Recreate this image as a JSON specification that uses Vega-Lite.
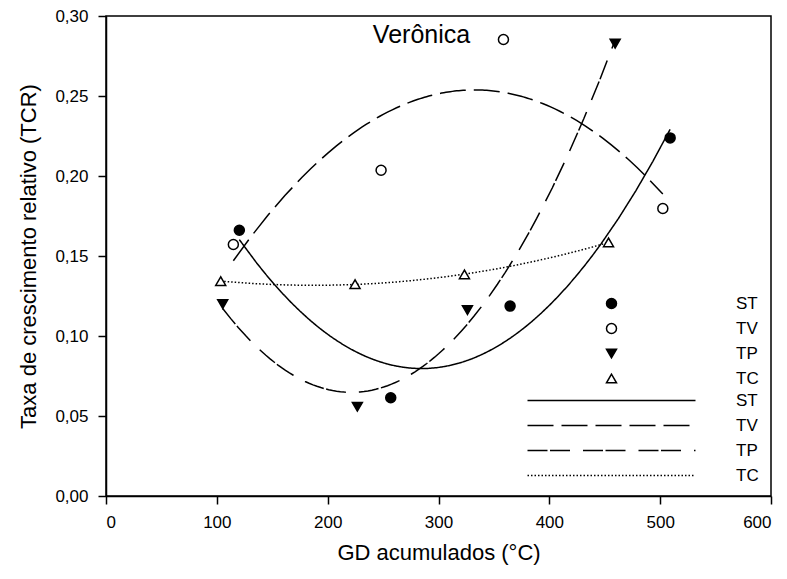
{
  "$schema": "https://vega.github.io/schema/vega-lite/v6.json",
  "width": 665,
  "height": 480,
  "autosize": "none",
  "padding": {"left": 106, "top": 16, "right": 16, "bottom": 83},
  "background": "white",
  "title": {"text": "Verônica", "fontSize": 25, "fontWeight": "normal", "font": "Liberation Sans", "color": "black", "anchor": "middle", "dx": -17, "offset": -41, "frame": "group"},
  "data": {"values": [
    {"x": 120.3, "y": 0.1661, "s": "ST"},
    {"x": 256.9, "y": 0.0614, "s": "ST"},
    {"x": 364.6, "y": 0.1187, "s": "ST"},
    {"x": 509.0, "y": 0.2238, "s": "ST"},
    {"x": 114.9, "y": 0.1572, "s": "TV"},
    {"x": 248.2, "y": 0.2036, "s": "TV"},
    {"x": 358.6, "y": 0.2853, "s": "TV"},
    {"x": 502.4, "y": 0.1797, "s": "TV"},
    {"x": 105.3, "y": 0.1199, "s": "TP"},
    {"x": 226.8, "y": 0.0558, "s": "TP"},
    {"x": 326.1, "y": 0.1162, "s": "TP"},
    {"x": 459.4, "y": 0.2827, "s": "TP"},
    {"x": 103.5, "y": 0.1343, "s": "TC"},
    {"x": 224.7, "y": 0.1324, "s": "TC"},
    {"x": 323.4, "y": 0.1385, "s": "TC"},
    {"x": 453.4, "y": 0.1585, "s": "TC"}
  ]},
  "encoding": {
    "x": {"field": "x", "type": "quantitative", "scale": {"domain": [0, 600], "nice": false},
      "axis": {"values": [0, 100, 200, 300, 400, 500, 600], "format": "d", "title": "GD acumulados (°C)", "grid": false}},
    "y": {"field": "y", "type": "quantitative", "scale": {"domain": [0, 0.3], "nice": false},
      "axis": {"values": [0, 0.05, 0.1, 0.15, 0.2, 0.25, 0.3], "format": ".2f", "title": "Taxa de crescimento relativo (TCR)", "grid": false}}
  },
  "layer": [
    {
      "transform": [{"regression": "y", "on": "x", "groupby": ["s"], "method": "poly", "order": 2}],
      "mark": {"type": "line", "stroke": "black", "strokeWidth": 1.5},
      "encoding": {
        "strokeDash": {"field": "s", "type": "nominal", "sort": ["ST", "TV", "TP", "TC"],
          "scale": {"range": [[1, 0], [26, 8], [20, 2.5, 20, 13], [1.5, 2]]},
          "legend": {"orient": "none", "legendX": 497, "legendY": 376, "title": null, "labelOffset": 116, "rowPadding": 7, "labelFontSize": 17, "labelFont": "Liberation Sans", "labelColor": "black", "symbolSize": 100, "symbolType": "M-16.8,0H16.8", "symbolStrokeColor": "black", "symbolStrokeWidth": 1.5, "padding": 0}}
      }
    },
    {
      "mark": {"type": "point", "filled": false, "strokeWidth": 1.5, "size": 100, "opacity": 1},
      "encoding": {
        "shape": {"field": "s", "type": "nominal",
          "scale": {"domain": ["ST", "TV", "TP", "TC"], "range": ["circle", "circle", "triangle-down", "triangle-up"]},
          "legend": {"orient": "none", "legendX": 497, "legendY": 279, "title": null, "labelOffset": 116, "rowPadding": 7, "labelFontSize": 17, "labelFont": "Liberation Sans", "labelColor": "black", "symbolSize": 100, "symbolStrokeWidth": 1.5, "padding": 0}},
        "fill": {"field": "s", "type": "nominal",
          "scale": {"domain": ["ST", "TV", "TP", "TC"], "range": ["black", "white", "black", "white"]},
          "legend": {"orient": "none", "legendX": 497, "legendY": 279, "title": null, "labelOffset": 116, "rowPadding": 7, "labelFontSize": 17, "labelFont": "Liberation Sans", "labelColor": "black", "symbolSize": 100, "symbolStrokeWidth": 1.5, "padding": 0}},
        "stroke": {"field": "s", "type": "nominal",
          "scale": {"domain": ["ST", "TV", "TP", "TC"], "range": ["black", "black", "black", "black"]},
          "legend": {"orient": "none", "legendX": 497, "legendY": 279, "title": null, "labelOffset": 116, "rowPadding": 7, "labelFontSize": 17, "labelFont": "Liberation Sans", "labelColor": "black", "symbolSize": 100, "symbolStrokeWidth": 1.5, "padding": 0}}
      }
    }
  ],
  "config": {
    "font": "Liberation Sans",
    "locale": {"number": {"decimal": ",", "thousands": ".", "grouping": [3], "currency": ["", ""]}},
    "view": {"stroke": "black", "strokeWidth": 1.5},
    "axis": {
      "domainColor": "black", "domainWidth": 1.5,
      "tickColor": "black", "tickWidth": 1.5, "tickSize": 8,
      "labelColor": "black", "labelFontSize": 17, "labelFont": "Liberation Sans", "labelPadding": 10,
      "titleColor": "black", "titleFontSize": 22, "titleFont": "Liberation Sans", "titleFontWeight": "normal"
    },
    "axisX": {"titlePadding": 12},
    "axisY": {"titlePadding": 14}
  }
}
